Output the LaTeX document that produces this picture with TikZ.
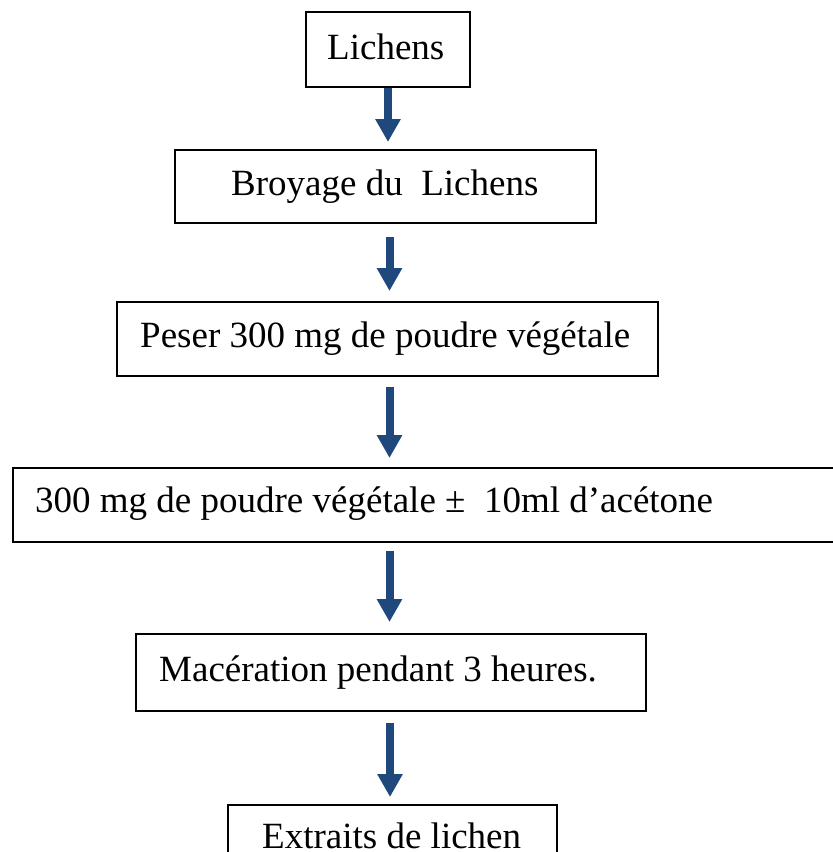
\documentclass[tikz,border=0pt]{standalone}
\usepackage{fontspec}
\setmainfont{Liberation Serif}
\usetikzlibrary{arrows.meta}
\definecolor{arrblue}{RGB}{31,73,125}
\begin{document}
\begin{tikzpicture}[x=1pt,y=-1pt,
  box/.style={draw=black,line width=2pt,rectangle,inner sep=0pt},
  lbl/.style={anchor=base west,inner sep=0pt,font=\fontsize{37}{44}\selectfont},
  arr/.style={draw=arrblue,line width=8pt,-{Triangle[width=24pt,length=23pt]},fill=arrblue}]
\clip (0,0) rectangle (833,852);
\fill[white] (0,0) rectangle (833,852);
% boxes
\node[box,minimum width=164pt,minimum height=75pt] (b1) at (388,49.5) {};
\node[box,minimum width=421pt,minimum height=73pt] (b2) at (385.5,186.5) {};
\node[box,minimum width=541pt,minimum height=74pt] (b3) at (387.5,339) {};
\node[box,minimum width=837pt,minimum height=74pt] (b4) at (431.5,505) {};
\node[box,minimum width=510pt,minimum height=77pt] (b5) at (391,672.5) {};
\node[box,minimum width=329pt,minimum height=75pt] (b6) at (392.5,842.5) {};
% texts
\node[lbl] (t1) at (327,59) {Lichens};
\node[lbl] (t2) at (231,195) {Broyage du\ \ Lichens};
\node[lbl] (t3) at (140,347) {Peser 300 mg de poudre végétale};
\node[lbl] (t4) at (35,512) {300 mg de poudre végétale ±\ \ 10ml d’acétone};
\node[lbl] (t5) at (159,681) {Macération pendant 3 heures.};
\node[lbl] (t6) at (262,848) {Extraits de lichen};
% arrows
\draw[arr] (b1.south) -- ([xshift=2.5pt,yshift=7pt]b2.north);
\draw[arr] ([xshift=4pt,yshift=-13pt]b2.south) -- ([xshift=2pt,yshift=10pt]b3.north);
\draw[arr] ([xshift=2pt,yshift=-10pt]b3.south) -- ([xshift=-42pt,yshift=9pt]b4.north);
\draw[arr] ([xshift=-42pt,yshift=-8pt]b4.south) -- ([xshift=-1.5pt,yshift=11pt]b5.north);
\draw[arr] ([xshift=-1pt,yshift=-11pt]b5.south) -- ([xshift=-2.5pt,yshift=7pt]b6.north);
\end{tikzpicture}
\end{document}
